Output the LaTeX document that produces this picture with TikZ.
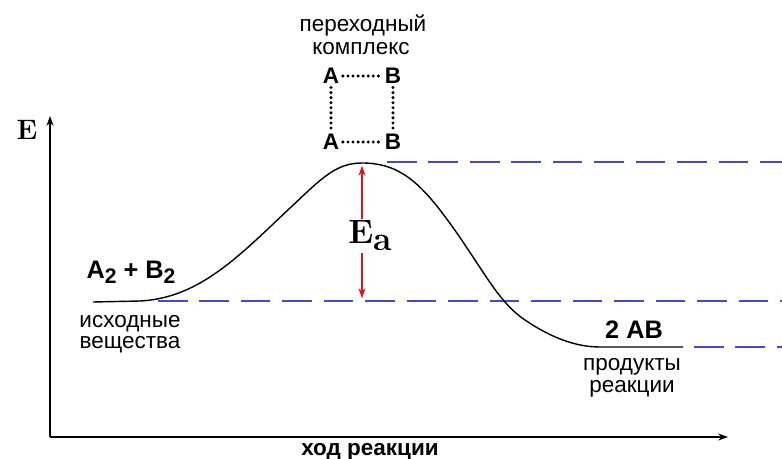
\documentclass[tikz,border=0pt]{standalone}
\usepackage{fontspec}
\newfontfamily\labfont{Liberation Sans}
\usepackage{xcolor}
\usetikzlibrary{positioning,arrows.meta}
\definecolor{levelblue}{RGB}{72,72,200}
\definecolor{eared}{RGB}{220,20,20}
\newcommand{\lowtwo}{\raisebox{-4pt}{\fontsize{15}{15}\selectfont 2}}

\begin{document}
\begin{tikzpicture}[x=0.025cm, y=-0.025cm,
  lab/.style={font=\labfont\fontsize{16}{18}\selectfont, inner sep=0pt, anchor=base},
  formula/.style={font=\labfont\bfseries\fontsize{18}{20}\selectfont, inner sep=0pt, anchor=base},
  atom/.style={font=\labfont\bfseries\fontsize{16}{18}\selectfont, inner sep=2.5pt},
  bond/.style={line width=2.4pt, line cap=round, dash pattern=on 0pt off 3.6pt},
  level/.style={levelblue, line width=1.8pt, dash pattern=on 21pt off 8.5pt},
  axis/.style={line width=1.1pt, -{Stealth[length=7pt,width=5pt]}},
  curve/.style={line width=1pt}]
\useasboundingbox (0,0) rectangle (782,459);

% axes
\coordinate (origin) at (50,437);
\coordinate (ytip) at (50,116);
\coordinate (xtip) at (728,437);
\draw[axis] (origin) -- (ytip);
\draw[axis] (origin) -- (xtip);
\node[font=\bfseries\fontsize{20}{22}\selectfont, inner sep=0pt, anchor=base] (elab) at (27,140) {E};
\node[font=\labfont\bfseries\fontsize{16}{18}\selectfont, inner sep=0pt, anchor=base] (xlab) at (370,455) {ход реакции};

% energy levels
\coordinate (peak) at (362,163);
\coordinate (base) at (362,301);
\coordinate (toplev) at (387,162);
\coordinate (topend) at (782,162);
\coordinate (midlev) at (158,301);
\coordinate (midend) at (782,301);
\coordinate (lowlev) at (694,347);
\coordinate (lowend) at (782,347);
\draw[level] (toplev) -- (topend);
\draw[level] (midlev) -- (midend);
\draw[level] (lowlev) -- (lowend);

% reaction path
\draw[curve] (93,302) -- (140,301)
  .. controls (200,298) and (240,255) .. (290,208)
  .. controls (320,180) and (335,163) .. (peak)
  .. controls (395,163) and (415,178) .. (440,210)
  .. controls (480,262) and (495,300) .. (525,320)
  .. controls (550,337) and (575,347) .. (600,347) -- (683,347);

% activation energy
\draw[eared, line width=1.1pt, {Stealth[length=7pt,width=5pt]}-{Stealth[length=7pt,width=5pt]}]
  ([yshift=-2pt]peak) -- ([yshift=2pt]base);
\node[fill=white, inner sep=1pt, font=\bfseries\fontsize{24}{26}\selectfont] (ea) at (370,236) {E\raisebox{-5pt}{a}};

% transition complex
\node[lab] (trans1) at (363,32) {переходный};
\node[lab] (trans2) at (361,55) {комплекс};
\node[atom] (a1) at (331,76) {A};
\node[atom] (b1) at (393,76) {B};
\node[atom] (a2) at (331,142) {A};
\node[atom] (b2) at (393,142) {B};
\draw[bond] (a1) -- (b1);
\draw[bond] (a2) -- (b2);
\draw[bond] (a1) -- (a2);
\draw[bond] (b1) -- (b2);

% reactants and products
\node[formula] (react) at (131,278) {A\lowtwo{} + B\lowtwo};
\node[lab] (src1) at (130,327) {исходные};
\node[lab] (src2) at (130,348) {вещества};
\node[formula] (prod) at (634,338) {2 AB};
\node[lab] (prd1) at (632,370) {продукты};
\node[lab] (prd2) at (632,392) {реакции};
\end{tikzpicture}
\end{document}
